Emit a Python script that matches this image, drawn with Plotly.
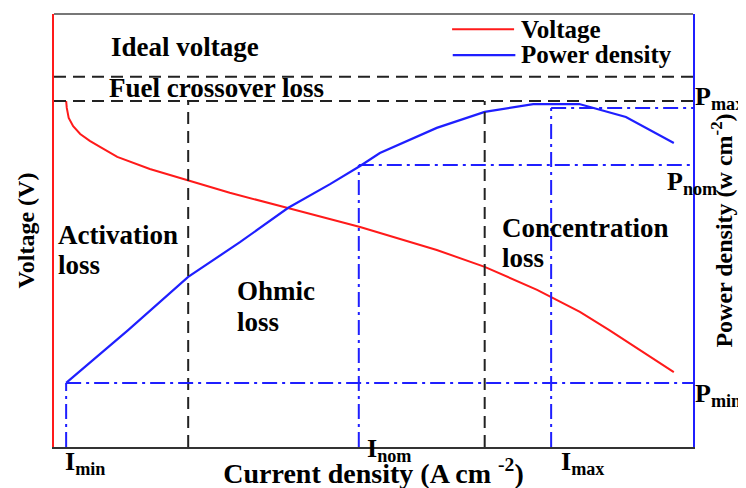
import plotly.graph_objects as go

# ---- data (normalised units) ----
voltage_current = [0.019, 0.020, 0.023, 0.030, 0.041, 0.056, 0.072, 0.099, 0.150, 0.197,
                   0.275, 0.366, 0.479, 0.599, 0.674, 0.756, 0.823, 0.869, 0.917, 0.970]
voltage = [0.799, 0.783, 0.760, 0.741, 0.723, 0.707, 0.693, 0.670, 0.642, 0.621,
           0.587, 0.552, 0.508, 0.455, 0.416, 0.363, 0.312, 0.270, 0.224, 0.173]

power_current = [0.019, 0.116, 0.210, 0.291, 0.366, 0.432, 0.479, 0.510, 0.599, 0.674,
                 0.750, 0.822, 0.895, 0.970]
power = [0.148, 0.270, 0.393, 0.473, 0.552, 0.607, 0.649, 0.679, 0.737, 0.774,
         0.792, 0.792, 0.762, 0.702]

V_ideal = 0.855
V_crossover = 0.799
I_activation = 0.210
I_concentration = 0.674
I_min, P_min = 0.019, 0.148
I_nom, P_nom = 0.477, 0.651
I_max, P_max = 0.778, 0.783

RED = "#ff1a1a"
BLUE = "#1f1fff"
DARK = "#222222"
FONT = "Liberation Serif, Times New Roman, serif"

fig = go.Figure()
fig.add_trace(go.Scatter(x=voltage_current, y=voltage, mode="lines", name="Voltage",
                         line=dict(color=RED, width=2), yaxis="y"))
fig.add_trace(go.Scatter(x=power_current, y=power, mode="lines", name="Power density",
                         line=dict(color=BLUE, width=2.2), yaxis="y2"))

dash_black = dict(color=DARK, width=2, dash="12px,7px")
dash_blue = dict(color=BLUE, width=2, dash="15px,5px,3px,5px")

shapes = []
# loss boundaries
for v in (V_ideal, V_crossover):
    shapes.append(dict(type="line", xref="x", yref="y", x0=0, x1=1, y0=v, y1=v, line=dash_black))
for i in (I_activation, I_concentration):
    shapes.append(dict(type="line", xref="x", yref="y", x0=i, x1=i, y0=0, y1=V_crossover, line=dash_black))
# operating points
for i, p in ((I_min, P_min), (I_nom, P_nom), (I_max, P_max)):
    shapes.append(dict(type="line", xref="x", yref="y2", x0=i, x1=i, y0=0, y1=p, line=dash_blue))
    shapes.append(dict(type="line", xref="x", yref="y2", x0=i, x1=1, y0=p, y1=p, line=dash_blue))
# top frame line
shapes.append(dict(type="line", xref="paper", yref="paper", x0=0, x1=1, y0=1, y1=1,
                   line=dict(color="#777777", width=2)))
# legend samples
shapes.append(dict(type="line", xref="paper", yref="paper", x0=0.623, x1=0.720, y0=0.965, y1=0.965,
                   line=dict(color=RED, width=2)))
shapes.append(dict(type="line", xref="paper", yref="paper", x0=0.624, x1=0.722, y0=0.905, y1=0.905,
                   line=dict(color=BLUE, width=2.2)))

annotations = []


def label(text, x, y, size=27, xanchor="left", yanchor="middle"):
    annotations.append(dict(text=text, x=x, y=y, xref="paper", yref="paper",
                            xanchor=xanchor, yanchor=yanchor, showarrow=False,
                            font=dict(family=FONT, size=size, color="black", weight="bold")))


label("Ideal voltage", 0.0860, 0.924)
label("Fuel crossover loss", 0.0830, 0.828)
label("Voltage", 0.727, 0.964, size=25)
label("Power density", 0.727, 0.907, size=25)
label("Activation", 0.0030, 0.490)
label("loss", 0.0030, 0.420)
label("Ohmic", 0.284, 0.360)
label("loss", 0.284, 0.289)
label("Concentration", 0.698, 0.506)
label("loss", 0.698, 0.436)
label("I<sub>min</sub>", 0.0140, 0.004, yanchor="top", size=26)
label("I<sub>nom</sub>", 0.486, 0.034, yanchor="top", size=26)
label("I<sub>max</sub>", 0.791, 0.004, yanchor="top", size=26)
label("P<sub>max</sub>", 1.0000, 0.847, yanchor="top", size=26)
label("P<sub>nom</sub>", 0.956, 0.651, yanchor="top", size=26)
label("P<sub>min</sub>", 1.0000, 0.161, yanchor="top", size=26)

x_title_font = dict(family=FONT, size=28, color="black", weight="bold")
y_title_font = dict(family=FONT, size=24, color="black", weight="bold")

# The page body adds an 8 px offset; margins are set so the plot area lands at
# x 54..693 and y 14..447 of the 746x488 window.
fig.update_layout(
    width=746, height=488, autosize=False,
    margin=dict(l=46, r=61, t=6, b=49, pad=0),
    paper_bgcolor="white", plot_bgcolor="white",
    showlegend=False,
    shapes=shapes, annotations=annotations,
    xaxis=dict(range=[0, 1], showgrid=False, zeroline=False, showticklabels=False, ticks="",
               showline=True, linecolor="#333333", linewidth=2,
               title=dict(text="Current density (A cm <sup>-2</sup>)", font=x_title_font, standoff=15)),
    yaxis=dict(range=[0, 1], showgrid=False, zeroline=False, showticklabels=False, ticks="",
               showline=True, linecolor=RED, linewidth=1.5,
               title=dict(text="Voltage (V)", font=y_title_font, standoff=11)),
    yaxis2=dict(range=[0, 1], overlaying="y", side="right", showgrid=False, zeroline=False,
                showticklabels=False, ticks="", showline=True, linecolor=BLUE, linewidth=2,
                title=dict(text="Power density (w cm<sup>-2</sup>)", font=y_title_font, standoff=21)),
)

fig.write_html("out.html")
